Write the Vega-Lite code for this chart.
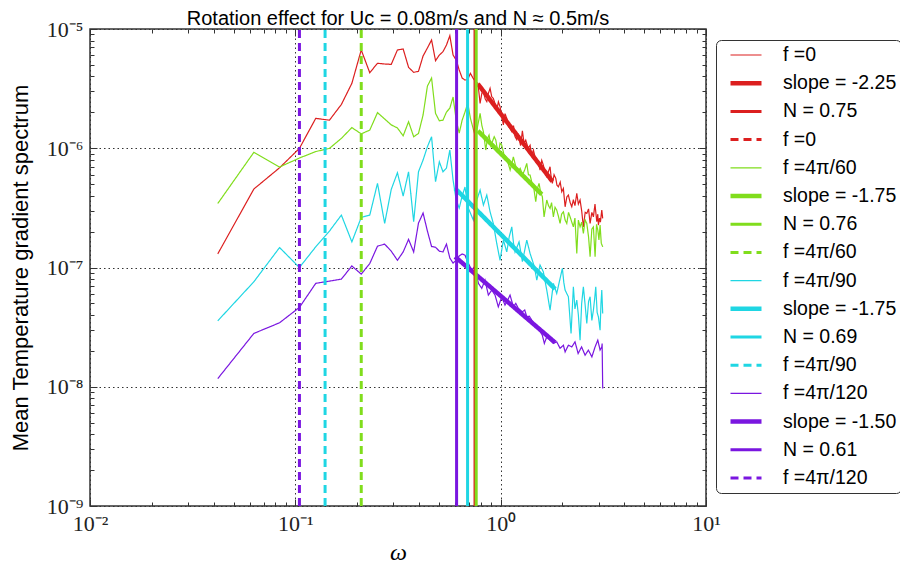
{
  "$schema": "https://vega.github.io/schema/vega-lite/v6.json",
  "width": 616,
  "height": 477,
  "autosize": {"type": "none"},
  "padding": {"left": 90, "top": 29, "right": 194, "bottom": 57},
  "background": "white",
  "config": {"view": {"stroke": "#333", "strokeWidth": 1.5}},
  "title": {"text": "Rotation effect for Uc = 0.08m/s and N ≈ 0.5m/s", "font": "Liberation Sans", "fontSize": 20, "fontWeight": "normal", "color": "black", "offset": -11},
  "datasets": {
    "specdata": [
      {"k":1,"w":0.0419,"v":1.30e-7},{"k":1,"w":0.0628,"v":4.55e-7},{"k":1,"w":0.0838,"v":6.86e-7},{"k":1,"w":0.1047,"v":9.98e-7},{"k":1,"w":0.1257,"v":1.78e-6},{"k":1,"w":0.1466,"v":1.72e-6},{"k":1,"w":0.1676,"v":2.33e-6},{"k":1,"w":0.1885,"v":3.50e-6},{"k":1,"w":0.2094,"v":6.67e-6},{"k":1,"w":0.2304,"v":4.30e-6},{"k":1,"w":0.2513,"v":5.16e-6},{"k":1,"w":0.2723,"v":5.09e-6},{"k":1,"w":0.2932,"v":5.05e-6},{"k":1,"w":0.3142,"v":6.67e-6},{"k":1,"w":0.3351,"v":6.80e-6},{"k":1,"w":0.3560,"v":4.77e-6},{"k":1,"w":0.3770,"v":4.33e-6},{"k":1,"w":0.3979,"v":4.42e-6},{"k":1,"w":0.4189,"v":5.94e-6},{"k":1,"w":0.4398,"v":6.93e-6},{"k":1,"w":0.4608,"v":8.09e-6},{"k":1,"w":0.4817,"v":5.42e-6},{"k":1,"w":0.5027,"v":6.05e-6},{"k":1,"w":0.5236,"v":6.45e-6},{"k":1,"w":0.5445,"v":7.34e-6},{"k":1,"w":0.5655,"v":8.79e-6},{"k":1,"w":0.5864,"v":6.05e-6},{"k":1,"w":0.6074,"v":5.49e-6},{"k":1,"w":0.6283,"v":4.53e-6},{"k":1,"w":0.6493,"v":3.88e-6},{"k":1,"w":0.6702,"v":3.73e-6},{"k":1,"w":0.6912,"v":3.78e-6},{"k":1,"w":0.7121,"v":4.25e-6},{"k":1,"w":0.7330,"v":3.88e-6},{"k":1,"w":0.7540,"v":3.61e-6},
      {"k":1,"w":0.775,"v":3.50e-6},{"k":1,"w":0.794,"v":2.38e-6},{"k":1,"w":0.810,"v":2.9e-6},{"k":1,"w":0.824,"v":2.98e-6},{"k":1,"w":0.840,"v":2.6e-6},{"k":1,"w":0.856,"v":2.46e-6},{"k":1,"w":0.872,"v":2.9e-6},{"k":1,"w":0.888,"v":3.18e-6},{"k":1,"w":0.905,"v":2.7e-6},{"k":1,"w":0.921,"v":2.62e-6},{"k":1,"w":0.940,"v":2.35e-6},{"k":1,"w":0.957,"v":2.09e-6},{"k":1,"w":0.975,"v":2.45e-6},{"k":1,"w":0.993,"v":2.23e-6},{"k":1,"w":1.012,"v":1.85e-6},{"k":1,"w":1.031,"v":1.57e-6},{"k":1,"w":1.05,"v":1.95e-6},{"k":1,"w":1.071,"v":1.78e-6},{"k":1,"w":1.10,"v":1.50e-6},{"k":1,"w":1.133,"v":1.38e-6},{"k":1,"w":1.155,"v":1.55e-6},{"k":1,"w":1.175,"v":1.25e-6},{"k":1,"w":1.198,"v":1.18e-6},{"k":1,"w":1.219,"v":1.29e-6},{"k":1,"w":1.25,"v":1.05e-6},{"k":1,"w":1.276,"v":1.40e-6},{"k":1,"w":1.30,"v":1.10e-6},{"k":1,"w":1.325,"v":1.17e-6},{"k":1,"w":1.36,"v":1.00e-6},{"k":1,"w":1.391,"v":1.06e-6},{"k":1,"w":1.417,"v":8.6e-7},{"k":1,"w":1.443,"v":9.66e-7},{"k":1,"w":1.47,"v":8.5e-7},{"k":1,"w":1.499,"v":7.96e-7},{"k":1,"w":1.53,"v":7.5e-7},{"k":1,"w":1.555,"v":6.56e-7},{"k":1,"w":1.585,"v":7.9e-7},{"k":1,"w":1.614,"v":7.23e-7},{"k":1,"w":1.645,"v":6.2e-7},{"k":1,"w":1.677,"v":5.77e-7},{"k":1,"w":1.710,"v":6.4e-7},{"k":1,"w":1.740,"v":7.00e-7},{"k":1,"w":1.765,"v":5.5e-7},{"k":1,"w":1.786,"v":5.08e-7},{"k":1,"w":1.82,"v":6.0e-7},{"k":1,"w":1.855,"v":5.59e-7},{"k":1,"w":1.88,"v":4.9e-7},{"k":1,"w":1.910,"v":4.75e-7},{"k":1,"w":1.95,"v":5.2e-7},{"k":1,"w":1.984,"v":4.32e-7},{"k":1,"w":2.02,"v":4.6e-7},{"k":1,"w":2.060,"v":3.23e-7},{"k":1,"w":2.10,"v":3.9e-7},{"k":1,"w":2.137,"v":4.05e-7},{"k":1,"w":2.18,"v":3.5e-7},{"k":1,"w":2.220,"v":3.23e-7},{"k":1,"w":2.26,"v":3.7e-7},{"k":1,"w":2.30,"v":3.3e-7},{"k":1,"w":2.348,"v":4.18e-7},{"k":1,"w":2.39,"v":3.4e-7},{"k":1,"w":2.436,"v":3.68e-7},{"k":1,"w":2.48,"v":3.0e-7},{"k":1,"w":2.528,"v":2.19e-7},{"k":1,"w":2.58,"v":2.9e-7},{"k":1,"w":2.627,"v":2.84e-7},{"k":1,"w":2.68,"v":3.1e-7},{"k":1,"w":2.726,"v":2.34e-7},{"k":1,"w":2.78,"v":2.9e-7},{"k":1,"w":2.829,"v":2.66e-7},{"k":1,"w":2.88,"v":3.4e-7},{"k":1,"w":2.938,"v":2.42e-7},{"k":1,"w":2.972,"v":2.8e-7},{"k":1,"w":2.992,"v":2.27e-7},{"k":1,"w":3.03,"v":2.6e-7},{"k":1,"w":3.06,"v":2.4e-7},{"k":1,"w":3.108,"v":3.03e-7},{"k":1,"w":3.14,"v":2.58e-7},
      {"k":5,"w":0.0419,"v":3.44e-7},{"k":5,"w":0.0628,"v":9.24e-7},{"k":5,"w":0.0838,"v":6.96e-7},{"k":5,"w":0.1047,"v":8.28e-7},{"k":5,"w":0.1257,"v":9.38e-7},{"k":5,"w":0.1466,"v":9.98e-7},{"k":5,"w":0.1676,"v":1.21e-6},{"k":5,"w":0.1885,"v":1.49e-6},{"k":5,"w":0.2094,"v":1.32e-6},{"k":5,"w":0.2304,"v":1.42e-6},{"k":5,"w":0.2513,"v":1.99e-6},{"k":5,"w":0.2723,"v":1.76e-6},{"k":5,"w":0.2932,"v":1.57e-6},{"k":5,"w":0.3142,"v":1.48e-6},{"k":5,"w":0.3351,"v":1.27e-6},{"k":5,"w":0.3560,"v":1.67e-6},{"k":5,"w":0.3770,"v":1.25e-6},{"k":5,"w":0.3979,"v":1.33e-6},{"k":5,"w":0.4189,"v":1.90e-6},{"k":5,"w":0.4398,"v":3.32e-6},{"k":5,"w":0.4608,"v":3.88e-6},{"k":5,"w":0.4817,"v":1.96e-6},{"k":5,"w":0.5027,"v":1.70e-6},{"k":5,"w":0.5236,"v":1.72e-6},{"k":5,"w":0.5445,"v":2.01e-6},{"k":5,"w":0.5655,"v":2.17e-6},{"k":5,"w":0.5864,"v":2.69e-6},{"k":5,"w":0.6074,"v":1.72e-6},{"k":5,"w":0.6283,"v":1.34e-6},{"k":5,"w":0.6493,"v":1.72e-6},{"k":5,"w":0.6702,"v":2.01e-6},{"k":5,"w":0.6912,"v":2.39e-6},{"k":5,"w":0.7121,"v":1.79e-6},{"k":5,"w":0.7330,"v":1.48e-6},{"k":5,"w":0.7540,"v":1.24e-6},
      {"k":5,"w":0.794,"v":1.96e-6},{"k":5,"w":0.810,"v":1.55e-6},{"k":5,"w":0.824,"v":1.375e-6},{"k":5,"w":0.846,"v":9.66e-7},{"k":5,"w":0.862,"v":1.2e-6},{"k":5,"w":0.878,"v":1.29e-6},{"k":5,"w":0.895,"v":1.05e-6},{"k":5,"w":0.911,"v":1.134e-6},{"k":5,"w":0.930,"v":1.25e-6},{"k":5,"w":0.947,"v":1.172e-6},{"k":5,"w":0.962,"v":1.0e-6},{"k":5,"w":0.975,"v":9.06e-7},{"k":5,"w":0.993,"v":1.1e-6},{"k":5,"w":1.012,"v":1.064e-6},{"k":5,"w":1.035,"v":9.0e-7},{"k":5,"w":1.059,"v":8.48e-7},{"k":5,"w":1.085,"v":7.6e-7},{"k":5,"w":1.112,"v":6.56e-7},{"k":5,"w":1.133,"v":7.4e-7},{"k":5,"w":1.153,"v":8.48e-7},{"k":5,"w":1.18,"v":7.2e-7},{"k":5,"w":1.211,"v":6.35e-7},{"k":5,"w":1.245,"v":6.8e-7},{"k":5,"w":1.276,"v":5.96e-7},{"k":5,"w":1.31,"v":6.6e-7},{"k":5,"w":1.340,"v":7.47e-7},{"k":5,"w":1.365,"v":6.0e-7},{"k":5,"w":1.391,"v":5.96e-7},{"k":5,"w":1.417,"v":5.2e-7},{"k":5,"w":1.443,"v":4.91e-7},{"k":5,"w":1.482,"v":3.56e-7},{"k":5,"w":1.51,"v":4.6e-7},{"k":5,"w":1.538,"v":5.08e-7},{"k":5,"w":1.565,"v":4.3e-7},{"k":5,"w":1.596,"v":3.92e-7},{"k":5,"w":1.627,"v":2.66e-7},{"k":5,"w":1.677,"v":3.68e-7},{"k":5,"w":1.71,"v":3.3e-7},{"k":5,"w":1.740,"v":3.13e-7},{"k":5,"w":1.77,"v":3.5e-7},{"k":5,"w":1.806,"v":2.66e-7},{"k":5,"w":1.84,"v":3.2e-7},{"k":5,"w":1.875,"v":3.03e-7},{"k":5,"w":1.91,"v":2.7e-7},{"k":5,"w":1.947,"v":2.34e-7},{"k":5,"w":1.98,"v":2.8e-7},{"k":5,"w":2.021,"v":2.93e-7},{"k":5,"w":2.06,"v":2.5e-7},{"k":5,"w":2.099,"v":2.34e-7},{"k":5,"w":2.14,"v":2.9e-7},{"k":5,"w":2.178,"v":2.66e-7},{"k":5,"w":2.22,"v":2.4e-7},{"k":5,"w":2.260,"v":2.19e-7},{"k":5,"w":2.30,"v":2.6e-7},{"k":5,"w":2.348,"v":1.31e-7},{"k":5,"w":2.39,"v":2.5e-7},{"k":5,"w":2.436,"v":2.19e-7},{"k":5,"w":2.48,"v":2.4e-7},{"k":5,"w":2.528,"v":1.93e-7},{"k":5,"w":2.58,"v":2.5e-7},{"k":5,"w":2.627,"v":2.34e-7},{"k":5,"w":2.68,"v":1.8e-7},{"k":5,"w":2.726,"v":1.23e-7},{"k":5,"w":2.78,"v":2.1e-7},{"k":5,"w":2.829,"v":2.19e-7},{"k":5,"w":2.883,"v":1.23e-7},{"k":5,"w":2.93,"v":2.3e-7},{"k":5,"w":2.972,"v":2.06e-7},{"k":5,"w":3.01,"v":1.7e-7},{"k":5,"w":3.049,"v":2.27e-7},{"k":5,"w":3.09,"v":1.6e-7},{"k":5,"w":3.14,"v":1.49e-7},
      {"k":9,"w":0.0419,"v":3.57e-8},{"k":9,"w":0.0628,"v":7.59e-8},{"k":9,"w":0.0838,"v":1.47e-7},{"k":9,"w":0.1047,"v":1.00e-7},{"k":9,"w":0.1257,"v":1.49e-7},{"k":9,"w":0.1466,"v":2.02e-7},{"k":9,"w":0.1676,"v":2.75e-7},{"k":9,"w":0.1885,"v":1.64e-7},{"k":9,"w":0.2094,"v":2.63e-7},{"k":9,"w":0.2304,"v":2.75e-7},{"k":9,"w":0.2513,"v":5.08e-7},{"k":9,"w":0.2723,"v":2.34e-7},{"k":9,"w":0.2932,"v":4.52e-7},{"k":9,"w":0.3142,"v":6.23e-7},{"k":9,"w":0.3351,"v":3.97e-7},{"k":9,"w":0.3560,"v":6.35e-7},{"k":9,"w":0.3770,"v":2.42e-7},{"k":9,"w":0.3979,"v":6.35e-7},{"k":9,"w":0.4189,"v":7.96e-7},{"k":9,"w":0.4398,"v":1.03e-6},{"k":9,"w":0.4608,"v":1.25e-6},{"k":9,"w":0.4817,"v":5.24e-7},{"k":9,"w":0.5027,"v":7.70e-7},{"k":9,"w":0.5236,"v":6.35e-7},{"k":9,"w":0.5445,"v":6.82e-7},{"k":9,"w":0.5655,"v":9.66e-7},{"k":9,"w":0.5864,"v":5.41e-7},{"k":9,"w":0.6074,"v":3.68e-7},{"k":9,"w":0.6283,"v":3.15e-7},{"k":9,"w":0.6493,"v":3.97e-7},{"k":9,"w":0.6702,"v":4.73e-7},{"k":9,"w":0.6912,"v":3.23e-7},
      {"k":9,"w":0.736,"v":2.50e-7},{"k":9,"w":0.765,"v":3.68e-7},{"k":9,"w":0.794,"v":4.46e-7},{"k":9,"w":0.824,"v":3.34e-7},{"k":9,"w":0.856,"v":4.05e-7},{"k":9,"w":0.888,"v":2.93e-7},{"k":9,"w":0.921,"v":2.34e-7},{"k":9,"w":0.957,"v":1.59e-7},{"k":9,"w":0.993,"v":1.15e-7},{"k":9,"w":1.031,"v":1.70e-7},{"k":9,"w":1.071,"v":1.35e-7},{"k":9,"w":1.10,"v":1.8e-7},{"k":9,"w":1.133,"v":2.19e-7},{"k":9,"w":1.155,"v":1.6e-7},{"k":9,"w":1.175,"v":1.35e-7},{"k":9,"w":1.229,"v":1.64e-7},{"k":9,"w":1.276,"v":1.12e-7},{"k":9,"w":1.31,"v":1.4e-7},{"k":9,"w":1.340,"v":1.70e-7},{"k":9,"w":1.391,"v":1.31e-7},{"k":9,"w":1.443,"v":1.08e-7},{"k":9,"w":1.47,"v":9.5e-8},{"k":9,"w":1.499,"v":7.84e-8},{"k":9,"w":1.555,"v":1.05e-7},{"k":9,"w":1.614,"v":9.20e-8},{"k":9,"w":1.677,"v":6.46e-8},{"k":9,"w":1.740,"v":4.39e-8},{"k":9,"w":1.806,"v":7.36e-8},{"k":9,"w":1.875,"v":6.06e-8},{"k":9,"w":1.947,"v":8.10e-8},{"k":9,"w":1.998,"v":9.83e-8},{"k":9,"w":2.03,"v":7.5e-8},{"k":9,"w":2.060,"v":6.46e-8},{"k":9,"w":2.137,"v":5.68e-8},{"k":9,"w":2.202,"v":2.80e-8},{"k":9,"w":2.260,"v":6.89e-8},{"k":9,"w":2.30,"v":4.5e-8},{"k":9,"w":2.348,"v":5.33e-8},{"k":9,"w":2.39,"v":4.0e-8},{"k":9,"w":2.436,"v":2.46e-8},{"k":9,"w":2.48,"v":5.0e-8},{"k":9,"w":2.528,"v":6.89e-8},{"k":9,"w":2.58,"v":4.8e-8},{"k":9,"w":2.627,"v":3.40e-8},{"k":9,"w":2.68,"v":5.2e-8},{"k":9,"w":2.726,"v":5.68e-8},{"k":9,"w":2.78,"v":3.6e-8},{"k":9,"w":2.829,"v":4.39e-8},{"k":9,"w":2.87,"v":5.5e-8},{"k":9,"w":2.905,"v":6.89e-8},{"k":9,"w":2.95,"v":4.2e-8},{"k":9,"w":2.992,"v":3.86e-8},{"k":9,"w":3.049,"v":2.98e-8},{"k":9,"w":3.08,"v":5.0e-8},{"k":9,"w":3.108,"v":6.46e-8},{"k":9,"w":3.14,"v":4.12e-8},
      {"k":13,"w":0.0419,"v":1.17e-8},{"k":13,"w":0.0628,"v":2.80e-8},{"k":13,"w":0.0838,"v":3.44e-8},{"k":13,"w":0.1047,"v":4.63e-8},{"k":13,"w":0.1257,"v":7.36e-8},{"k":13,"w":0.1466,"v":7.69e-8},{"k":13,"w":0.1676,"v":7.99e-8},{"k":13,"w":0.1885,"v":1.03e-7},{"k":13,"w":0.2094,"v":8.80e-8},{"k":13,"w":0.2304,"v":1.08e-7},{"k":13,"w":0.2513,"v":1.51e-7},{"k":13,"w":0.2723,"v":1.57e-7},{"k":13,"w":0.2932,"v":1.37e-7},{"k":13,"w":0.3142,"v":1.15e-7},{"k":13,"w":0.3351,"v":1.35e-7},{"k":13,"w":0.3560,"v":1.72e-7},{"k":13,"w":0.3770,"v":1.35e-7},{"k":13,"w":0.3979,"v":2.36e-7},{"k":13,"w":0.4189,"v":2.86e-7},{"k":13,"w":0.4398,"v":2.02e-7},{"k":13,"w":0.4608,"v":1.50e-7},{"k":13,"w":0.4817,"v":1.48e-7},{"k":13,"w":0.5027,"v":1.37e-7},{"k":13,"w":0.5236,"v":1.35e-7},{"k":13,"w":0.5445,"v":1.57e-7},{"k":13,"w":0.5655,"v":1.20e-7},{"k":13,"w":0.5864,"v":1.09e-7},{"k":13,"w":0.6074,"v":1.15e-7},{"k":13,"w":0.6283,"v":1.25e-7},{"k":13,"w":0.6493,"v":1.30e-7},{"k":13,"w":0.6702,"v":1.27e-7},{"k":13,"w":0.6912,"v":1.11e-7},
      {"k":13,"w":0.723,"v":9.51e-8},{"k":13,"w":0.750,"v":1.03e-7},{"k":13,"w":0.779,"v":7.36e-8},{"k":13,"w":0.809,"v":6.68e-8},{"k":13,"w":0.839,"v":7.84e-8},{"k":13,"w":0.871,"v":5.87e-8},{"k":13,"w":0.905,"v":6.46e-8},{"k":13,"w":0.939,"v":5.87e-8},{"k":13,"w":0.974,"v":4.68e-8},{"k":13,"w":1.012,"v":5.68e-8},{"k":13,"w":1.050,"v":4.84e-8},{"k":13,"w":1.08,"v":5.3e-8},{"k":13,"w":1.111,"v":5.87e-8},{"k":13,"w":1.153,"v":4.68e-8},{"k":13,"w":1.185,"v":5.0e-8},{"k":13,"w":1.219,"v":4.54e-8},{"k":13,"w":1.276,"v":4.25e-8},{"k":13,"w":1.31,"v":4.4e-8},{"k":13,"w":1.340,"v":3.86e-8},{"k":13,"w":1.38,"v":3.9e-8},{"k":13,"w":1.417,"v":3.62e-8},{"k":13,"w":1.470,"v":3.18e-8},{"k":13,"w":1.526,"v":3.08e-8},{"k":13,"w":1.595,"v":2.71e-8},{"k":13,"w":1.632,"v":2.31e-8},{"k":13,"w":1.677,"v":2.62e-8},{"k":13,"w":1.740,"v":2.46e-8},{"k":13,"w":1.806,"v":2.31e-8},{"k":13,"w":1.875,"v":2.38e-8},{"k":13,"w":1.947,"v":2.10e-8},{"k":13,"w":2.021,"v":2.23e-8},{"k":13,"w":2.060,"v":1.96e-8},{"k":13,"w":2.137,"v":2.23e-8},{"k":13,"w":2.220,"v":2.16e-8},{"k":13,"w":2.302,"v":2.38e-8},{"k":13,"w":2.384,"v":1.90e-8},{"k":13,"w":2.478,"v":2.16e-8},{"k":13,"w":2.577,"v":1.84e-8},{"k":13,"w":2.674,"v":2.03e-8},{"k":13,"w":2.781,"v":1.78e-8},{"k":13,"w":2.883,"v":2.16e-8},{"k":13,"w":2.972,"v":2.46e-8},{"k":13,"w":3.049,"v":2.03e-8},{"k":13,"w":3.108,"v":2.16e-8},{"k":13,"w":3.12,"v":2.3e-8},{"k":13,"w":3.14,"v":9.67e-9}
    ],
    "fitdata": [
      {"k":2,"w":0.775,"v":3.46e-6},{"k":2,"w":1.786,"v":5.27e-7},
      {"k":6,"w":0.775,"v":1.40e-6},{"k":6,"w":1.586,"v":4.1e-7},
      {"k":10,"w":0.60,"v":4.61e-7},{"k":10,"w":1.84,"v":6.6e-8},
      {"k":14,"w":0.60,"v":1.23e-7},{"k":14,"w":1.84,"v":2.35e-8}
    ],
    "nldata": [
      {"k":3,"w":0.75},{"k":7,"w":0.76},{"k":11,"w":0.69},{"k":15,"w":0.61}
    ],
    "fldata": [
      {"k":8,"w":0.2094},{"k":12,"w":0.1396},{"k":16,"w":0.1047}
    ]
  },
  "layer": [
    {
      "data": {"name": "specdata"},
      "mark": {"type": "line"},
      "encoding": {
        "x": {"field": "w", "type": "quantitative", "scale": {"type": "log", "domain": [0.01, 10], "nice": false},
          "axis": {"orient": "bottom", "values": [0.01, 0.1, 1, 10], "grid": true, "gridDash": [1.5, 3], "gridColor": "#333", "gridOpacity": 1, "gridWidth": 1, "domain": false, "tickSize": -7, "tickColor": "#333", "tickWidth": 1,
            "labelExpr": "datum.value < 0.05 ? '10⁻²' : datum.value < 0.5 ? '10⁻¹' : datum.value < 5 ? '10⁰' : '10¹'",
            "labelFont": "Liberation Serif", "labelFontSize": 22, "labelColor": "#222", "labelPadding": 14, "labelFlush": false, "labelOverlap": false,
            "title": "ω", "titleFont": "Liberation Serif", "titleFontStyle": "italic", "titleFontWeight": "normal", "titleFontSize": 24, "titleColor": "black", "titlePadding": 6}},
        "y": {"field": "v", "type": "quantitative", "scale": {"type": "log", "domain": [1e-9, 1e-5], "nice": false},
          "axis": {"orient": "left", "values": [1e-9, 1e-8, 1e-7, 1e-6, 1e-5], "grid": true, "gridDash": [1.5, 3], "gridColor": "#333", "gridOpacity": 1, "gridWidth": 1, "domain": false, "tickSize": -7, "tickColor": "#333", "tickWidth": 1,
            "labelExpr": "datum.value < 5e-9 ? '10⁻⁹' : datum.value < 5e-8 ? '10⁻⁸' : datum.value < 5e-7 ? '10⁻⁷' : datum.value < 5e-6 ? '10⁻⁶' : '10⁻⁵'",
            "labelFont": "Liberation Serif", "labelFontSize": 22, "labelColor": "#222", "labelPadding": 14, "labelFlush": false, "labelOverlap": false,
            "title": "Mean Temperature gradient spectrum", "titleFont": "Liberation Sans", "titleFontSize": 22, "titleFontWeight": "normal", "titleColor": "black", "titlePadding": 14}},
        "color": {"field": "k", "type": "ordinal",
          "scale": {"domain": [1,2,3,4,5,6,7,8,9,10,11,12,13,14,15,16], "range": ["#dc1f1f","#dc1f1f","#dc1f1f","#dc1f1f","#80dd1c","#80dd1c","#80dd1c","#80dd1c","#1fd6e3","#1fd6e3","#1fd6e3","#1fd6e3","#7a16e0","#7a16e0","#7a16e0","#7a16e0"]},
          "legend": {"title": null, "orient": "none", "legendX": 626, "legendY": 11, "direction": "vertical", "symbolType": "stroke", "symbolSize": 961, "symbolOffset": 8, "padding": 4, "labelOffset": 19, "labelFont": "Liberation Sans", "labelFontSize": 19.5, "labelColor": "black", "labelLimit": 400, "clipHeight": 22, "rowPadding": 6.2, "strokeColor": "#333", "fillColor": "white", "cornerRadius": 5,
            "labelExpr": "['f =0','slope = -2.25','N = 0.75','f =0','f =4π/60','slope = -1.75','N = 0.76','f =4π/60','f =4π/90','slope = -1.75','N = 0.69','f =4π/90','f =4π/120','slope = -1.50','N = 0.61','f =4π/120'][datum.value - 1] + '\u00a0\u00a0\u00a0\u00a0\u00a0\u00a0'"}},
        "strokeWidth": {"field": "k", "type": "quantitative",
          "scale": {"type": "linear", "domain": [1,2,3,4,5,6,7,8,9,10,11,12,13,14,15,16], "range": [1.2,4.5,3,3,1.2,4.5,3,3,1.2,4.5,3,3,1.2,4.5,3,3], "zero": false, "nice": false}},
        "strokeDash": {"field": "k", "type": "ordinal",
          "scale": {"domain": [1,2,3,4,5,6,7,8,9,10,11,12,13,14,15,16], "range": [[1,0],[1,0],[1,0],[8,5],[1,0],[1,0],[1,0],[8,5],[1,0],[1,0],[1,0],[8,5],[1,0],[1,0],[1,0],[8,5]]}}
      }
    },
    {
      "data": {"name": "fitdata"},
      "mark": {"type": "line"},
      "encoding": {
        "x": {"field": "w", "type": "quantitative", "scale": {"type": "log", "domain": [0.01, 10], "nice": false},
          "axis": {"orient": "bottom", "values": [0.02,0.03,0.04,0.05,0.06,0.07,0.08,0.09,0.2,0.3,0.4,0.5,0.6,0.7,0.8,0.9,2,3,4,5,6,7,8,9], "grid": false, "domain": false, "labels": false, "tickSize": -4, "tickColor": "#333", "title": null}},
        "y": {"field": "v", "type": "quantitative", "scale": {"type": "log", "domain": [1e-9, 1e-5], "nice": false},
          "axis": {"orient": "left", "values": [2e-9,3e-9,4e-9,5e-9,6e-9,7e-9,8e-9,9e-9,2e-8,3e-8,4e-8,5e-8,6e-8,7e-8,8e-8,9e-8,2e-7,3e-7,4e-7,5e-7,6e-7,7e-7,8e-7,9e-7,2e-6,3e-6,4e-6,5e-6,6e-6,7e-6,8e-6,9e-6], "grid": false, "domain": false, "labels": false, "tickSize": -4, "tickColor": "#333", "title": null}},
        "color": {"field": "k", "type": "ordinal"},
        "strokeWidth": {"field": "k", "type": "quantitative"},
        "strokeDash": {"field": "k", "type": "ordinal"}
      }
    },
    {
      "data": {"name": "nldata"},
      "mark": {"type": "rule"},
      "encoding": {
        "x": {"field": "w", "type": "quantitative", "scale": {"type": "log", "domain": [0.01, 10], "nice": false},
          "axis": {"orient": "top", "values": [0.01, 0.1, 1, 10], "grid": false, "domain": false, "labels": false, "tickSize": -7, "tickColor": "#333", "title": null}},
        "y": {"datum": 1e-9, "type": "quantitative", "scale": {"type": "log", "domain": [1e-9, 1e-5], "nice": false},
          "axis": {"orient": "right", "values": [1e-9, 1e-8, 1e-7, 1e-6, 1e-5], "grid": false, "domain": false, "labels": false, "tickSize": -7, "tickColor": "#333", "title": null}},
        "y2": {"datum": 1e-5},
        "color": {"field": "k", "type": "ordinal"},
        "strokeWidth": {"field": "k", "type": "quantitative"},
        "strokeDash": {"field": "k", "type": "ordinal"}
      }
    },
    {
      "data": {"name": "fldata"},
      "mark": {"type": "rule"},
      "encoding": {
        "x": {"field": "w", "type": "quantitative", "scale": {"type": "log", "domain": [0.01, 10], "nice": false},
          "axis": {"orient": "top", "values": [0.02,0.03,0.04,0.05,0.06,0.07,0.08,0.09,0.2,0.3,0.4,0.5,0.6,0.7,0.8,0.9,2,3,4,5,6,7,8,9], "grid": false, "domain": false, "labels": false, "tickSize": -4, "tickColor": "#333", "title": null}},
        "y": {"datum": 1e-9, "type": "quantitative", "scale": {"type": "log", "domain": [1e-9, 1e-5], "nice": false},
          "axis": {"orient": "right", "values": [2e-9,3e-9,4e-9,5e-9,6e-9,7e-9,8e-9,9e-9,2e-8,3e-8,4e-8,5e-8,6e-8,7e-8,8e-8,9e-8,2e-7,3e-7,4e-7,5e-7,6e-7,7e-7,8e-7,9e-7,2e-6,3e-6,4e-6,5e-6,6e-6,7e-6,8e-6,9e-6], "grid": false, "domain": false, "labels": false, "tickSize": -4, "tickColor": "#333", "title": null}},
        "y2": {"datum": 1e-5},
        "color": {"field": "k", "type": "ordinal"},
        "strokeWidth": {"field": "k", "type": "quantitative"},
        "strokeDash": {"field": "k", "type": "ordinal"}
      }
    }
  ],
  "resolve": {"axis": {"x": "independent", "y": "independent"}}
}
